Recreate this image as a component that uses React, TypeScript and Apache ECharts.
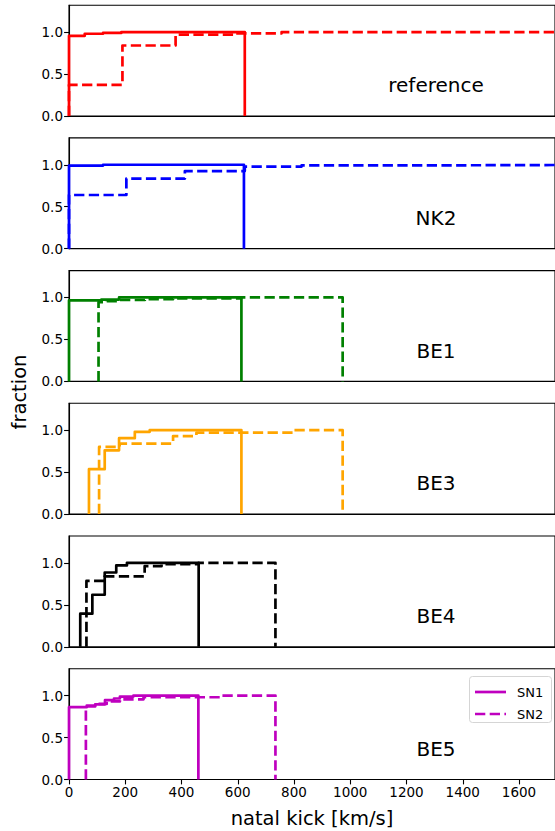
import React, { useEffect, useRef } from "react";
import * as echarts from "echarts";

// ---- data ----
const panelNames = ["reference", "NK2", "BE1", "BE3", "BE4", "BE5"];
const panelColors = ["#ff0000", "#0000ff", "#008000", "#ffa500", "#000000", "#bf00bf"];

const xTicks = [0, 200, 400, 600, 800, 1000, 1200, 1400, 1600];
const yTicks = [0, 0.5, 1.0];
const legendNames = ["SN1", "SN2"];

// SN1 (solid): edges where cumulative fraction changes, values after each edge, last edge
const sn1Edges = [
  [0, 56, 121, 186],
  [0, 121],
  [0, 115, 178],
  [71, 127, 178, 234, 287],
  [40, 83, 127, 168, 206],
  [0, 63, 93, 128, 160, 181, 229],
];
const sn1Values = [
  [0.955, 0.98, 0.99, 1.0],
  [0.99, 1.0],
  [0.965, 0.975, 1.0],
  [0.535, 0.76, 0.905, 0.98, 1.0],
  [0.395, 0.62, 0.885, 0.97, 1.0],
  [0.862, 0.88, 0.895, 0.945, 0.965, 0.988, 1.0],
];
const sn1End = [625, 622, 613, 613, 461, 460];

// SN2 (dashed)
const sn2Edges = [
  [0, 190, 379, 584, 756],
  [0, 204, 412, 625, 827, 1248],
  [105, 134, 178, 270, 370, 613],
  [107, 180, 370, 453, 797],
  [62, 127, 269, 329, 461],
  [60, 93, 134, 181, 265, 536],
];
const sn2Values = [
  [0.37, 0.84, 0.97, 0.985, 1.0],
  [0.64, 0.835, 0.925, 0.978, 0.992, 1.0],
  [0.945, 0.955, 0.97, 0.98, 0.99, 1.0],
  [0.8, 0.84, 0.93, 0.97, 1.0],
  [0.785, 0.84, 0.96, 0.985, 1.0],
  [0.87, 0.9, 0.93, 0.955, 0.98, 1.0],
];
const sn2End = [2000, 2000, 973, 973, 734, 734];

const X_MAX = 1728;
const Y_MAX = 1.32;

function stepPoints(edges: number[], values: number[], end: number) {
  const pts: number[][] = [[edges[0], 0]];
  for (let i = 0; i < edges.length; i++) {
    pts.push([edges[i], values[i]]);
    const next = i + 1 < edges.length ? edges[i + 1] : end;
    pts.push([next, values[i]]);
  }
  pts.push([end, 0]);
  return pts;
}

const FONT = "DejaVu Sans";
const LW = 2.7;
const DASH = [10.3, 4.4];

export default function App() {
  const ref = useRef<HTMLDivElement>(null);

  useEffect(() => {
    document.body.style.margin = "0";
    const chart = echarts.init(ref.current!, undefined, { renderer: "svg" });

    const TOP0 = 5.2;
    const STEP = 132.7;
    const H = 110.8;
    const LEFT = 69;

    const grids: any[] = [];
    const xAxes: any[] = [];
    const yAxes: any[] = [];
    const series: any[] = [];
    const graphics: any[] = [];

    panelNames.forEach((name, i) => {
      const top = TOP0 + i * STEP;
      const last = i === panelNames.length - 1;
      grids.push({
        left: LEFT,
        right: 0,
        top,
        height: H,
        show: true,
        borderColor: "#000",
        borderWidth: 1.1,
        containLabel: false,
      });
      xAxes.push({
        type: "value",
        gridIndex: i,
        min: 0,
        max: X_MAX,
        splitLine: { show: false },
        axisLine: { show: true, lineStyle: { color: "#000", width: 1.1 } },
        axisTick: {
          show: last,
          length: 4.9,
          customValues: xTicks,
          lineStyle: { color: "#000", width: 1.1 },
        },
        axisLabel: {
          show: last,
          customValues: xTicks,
          margin: 5,
          color: "#000",
          fontSize: 13.5,
          fontFamily: FONT,
          formatter: (v: number) => String(v),
        },
      });
      yAxes.push({
        type: "value",
        gridIndex: i,
        min: 0,
        max: Y_MAX,
        splitLine: { show: false },
        axisLine: { show: true, lineStyle: { color: "#000", width: 1.1 } },
        axisTick: {
          show: true,
          length: 4.9,
          customValues: yTicks,
          lineStyle: { color: "#000", width: 1.1 },
        },
        axisLabel: {
          show: true,
          customValues: yTicks,
          margin: 6,
          color: "#000",
          fontSize: 13.5,
          fontFamily: FONT,
          formatter: (v: number) => v.toFixed(1),
        },
      });
      const color = panelColors[i];
      series.push({
        type: "line",
        name: name + " SN2",
        xAxisIndex: i,
        yAxisIndex: i,
        data: stepPoints(sn2Edges[i], sn2Values[i], sn2End[i]),
        symbol: "none",
        showSymbol: false,
        color,
        lineStyle: { color, width: LW, type: DASH, join: "round" },
        clip: true,
        z: 2,
      });
      series.push({
        type: "line",
        name: name + " SN1",
        xAxisIndex: i,
        yAxisIndex: i,
        data: stepPoints(sn1Edges[i], sn1Values[i], sn1End[i]),
        symbol: "none",
        showSymbol: false,
        color,
        lineStyle: { color, width: LW, type: "solid", join: "round" },
        clip: true,
        z: 3,
      });
      graphics.push({
        type: "text",
        x: 436,
        y: top + 80,
        style: {
          text: name,
          fill: "#000",
          font: `20px '${FONT}'`,
          align: "center",
          verticalAlign: "middle",
        },
      });
    });

    graphics.push({
      type: "text",
      x: 312,
      y: 818,
      style: {
        text: "natal kick [km/s]",
        fill: "#000",
        font: `19.5px '${FONT}'`,
        align: "center",
        verticalAlign: "middle",
      },
    });
    graphics.push({
      type: "text",
      x: 19,
      y: 392,
      rotation: Math.PI / 2,
      style: {
        text: "fraction",
        fill: "#000",
        font: `19.5px '${FONT}'`,
        align: "center",
        verticalAlign: "middle",
      },
    });

    // legend (last panel)
    const legColor = panelColors[panelColors.length - 1];
    graphics.push({
      type: "rect",
      shape: { x: 469.5, y: 676.5, width: 82, height: 46, r: 3 },
      style: { fill: "rgba(255,255,255,0.8)", stroke: "#d5d5d5", lineWidth: 1 },
      z: 10,
    });
    legendNames.forEach((nm, k) => {
      const y = 692 + k * 22;
      graphics.push({
        type: "line",
        shape: { x1: 475, y1: y, x2: 506, y2: y },
        style: {
          stroke: legColor,
          lineWidth: LW,
          lineDash: k === 0 ? null : DASH,
        },
        z: 11,
      });
      graphics.push({
        type: "text",
        x: 517,
        y,
        style: {
          text: nm,
          fill: "#000",
          font: `13px '${FONT}'`,
          align: "left",
          verticalAlign: "middle",
        },
        z: 11,
      });
    });

    chart.setOption({
      animation: false,
      backgroundColor: "#fff",
      grid: grids,
      xAxis: xAxes,
      yAxis: yAxes,
      series,
      graphic: graphics,
    });

    return () => chart.dispose();
  }, []);

  return <div ref={ref} style={{ width: 555, height: 831 }} />;
}
